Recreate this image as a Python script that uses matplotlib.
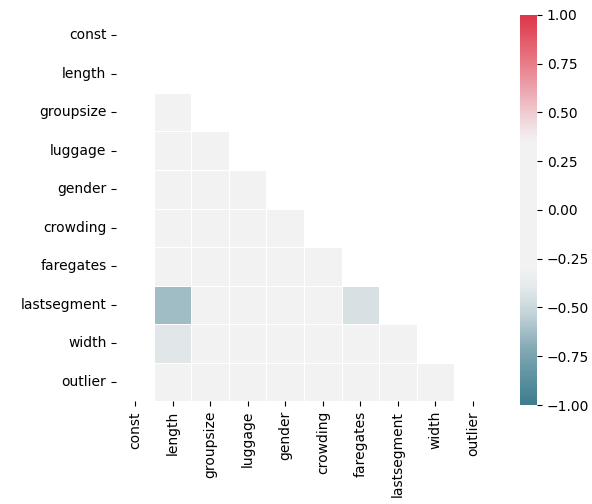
import numpy as np
import matplotlib
matplotlib.use("Agg")
import matplotlib.pyplot as plt
from matplotlib.colors import LinearSegmentedColormap
import seaborn as sns

labels = ["const", "length", "groupsize", "luggage", "gender", "crowding",
          "faregates", "lastsegment", "width", "outlier"]

# lower-triangle correlations (excluding the constant column), row by row
low_length = []
low_groupsize = [0.05]
low_luggage = [0.03, 0.10]
low_gender = [0.02, 0.04, 0.01]
low_crowding = [0.08, -0.03, 0.02, 0.05]
low_faregates = [0.12, 0.02, -0.04, 0.03, 0.06]
low_lastsegment = [-0.63, 0.05, 0.03, 0.08, 0.01, -0.45]
low_width = [-0.41, 0.02, -0.05, 0.04, 0.03, 0.10, 0.07]
low_outlier = [0.04, 0.01, 0.02, -0.02, 0.03, 0.05, 0.12, 0.02]

rows = [None, low_length, low_groupsize, low_luggage, low_gender, low_crowding,
        low_faregates, low_lastsegment, low_width, low_outlier]

n = len(labels)
corr = np.full((n, n), np.nan)
for i in range(1, n):
    corr[i, i] = 1.0
    for j, v in enumerate(rows[i]):
        corr[i, j + 1] = v
        corr[j + 1, i] = v

mask = np.triu(np.ones_like(corr, dtype=bool))

# colormap anchors (value, rgb) matched to the reference colorbar
anchors = [(-1.0, (61, 125, 142)), (-0.85, (95, 148, 162)), (-0.7, (135, 172, 183)),
           (-0.55, (190, 208, 214)), (-0.4, (228, 233, 235)), (-0.3, (242, 242, 242)),
           (0.35, (242, 242, 242)), (0.45, (240, 218, 222)), (0.6, (236, 172, 180)),
           (0.75, (232, 125, 137)), (0.9, (226, 82, 97)), (1.0, (221, 55, 72))]
cmap = LinearSegmentedColormap.from_list(
    "div", [((v + 1) / 2, tuple(c / 255 for c in rgb)) for v, rgb in anchors], N=256)

fig = plt.figure(figsize=(5.92, 5.04), dpi=100)
ax = fig.add_axes([0.1963, 0.2038, 0.6345, 0.765])
cax = fig.add_axes([0.8784, 0.1964, 0.0287, 0.774])

sns.heatmap(corr, mask=mask, cmap=cmap, vmin=-1, vmax=1, center=0,
            linewidths=0.5, linecolor="white",
            xticklabels=labels, yticklabels=labels, ax=ax, cbar_ax=cax)

ax.tick_params(labelsize=10)
ax.set_xticklabels(labels, rotation=90)
ax.set_yticklabels(labels, rotation=0)
cax.tick_params(labelsize=10)
for s in cax.spines.values():
    s.set_visible(False)

fig.savefig("out.png", dpi=100)
